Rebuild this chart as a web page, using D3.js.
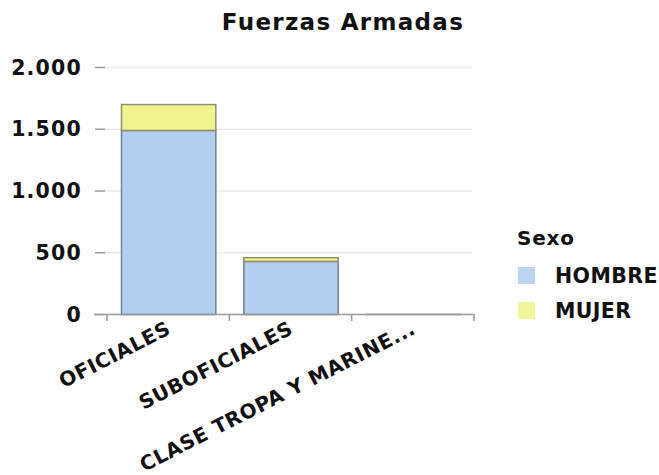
<!DOCTYPE html>
<html>
<head>
<meta charset="utf-8">
<script src="https://cdn.jsdelivr.net/npm/d3@7"></script>
<style>
  html, body { margin: 0; padding: 0; background: #fff; }
  svg text { font-family: "DejaVu Sans", sans-serif; font-weight: bold; fill: #111; }
</style>
</head>
<body>
<svg id="chart" width="659" height="475"></svg>
<script>
// Personal de las Fuerzas Armadas por categoría y sexo
const categories = ["OFICIALES", "SUBOFICIALES", "CLASE TROPA Y MARINE..."];
const series = ["HOMBRE", "MUJER"];
const hombre = [1490, 430, 1];
const mujer = [210, 30, 0];
const yTicks = [0, 500, 1000, 1500, 2000];
const colors = { HOMBRE: "#b3cfef", MUJER: "#f2f28e" };
const strokes = { HOMBRE: "#6f8096", MUJER: "#8f8f6a" };

const svg = d3.select("#chart");
const margin = { left: 107, right: 474, top: 67, bottom: 314 };

const x = d3.scaleBand().domain(categories).range([margin.left, margin.right]).padding(0);
const y = d3.scaleLinear().domain([0, 2000]).range([margin.bottom, margin.top]);

const fmt = v => d3.format(",")(v).replace(/,/g, ".");

// grid
svg.append("g").selectAll("line").data(yTicks.filter(d => d > 0)).join("line")
  .attr("x1", 105).attr("x2", 472)
  .attr("y1", d => y(d) + 0.5).attr("y2", d => y(d) + 0.5)
  .attr("stroke", "#e8e8e8").attr("stroke-width", 1.5);

// y axis tick marks and labels
const yAxis = svg.append("g");
yAxis.selectAll("line").data(yTicks).join("line")
  .attr("x1", 95).attr("x2", 105)
  .attr("y1", d => y(d) + 0.5).attr("y2", d => y(d) + 0.5)
  .attr("stroke", "#999").attr("stroke-width", 1.5);
yAxis.selectAll("text").data(yTicks).join("text")
  .attr("x", 82).attr("y", d => y(d) + 7.5)
  .attr("text-anchor", "end").attr("font-size", 20.5)
  .attr("letter-spacing", 1.2)
  .text(fmt);

// stacked bars
const table = categories.map((c, i) => ({ cat: c, HOMBRE: hombre[i], MUJER: mujer[i] }));
const stacked = d3.stack().keys(series)(table);
const inset = 14;
svg.append("g").selectAll("g").data(stacked).join("g")
  .attr("fill", d => colors[d.key]).attr("stroke", d => strokes[d.key])
  .selectAll("rect").data(d => d.filter(p => p[1] - p[0] > 0)).join("rect")
  .attr("x", d => x(d.data.cat) + inset + 0.5)
  .attr("width", x.bandwidth() - 2 * inset)
  .attr("y", d => y(d[1]) + 0.5)
  .attr("height", d => Math.max(0, y(d[0]) - y(d[1])))
  .attr("stroke-width", 1.5);

// x axis
const xAxis = svg.append("g");
xAxis.append("line")
  .attr("x1", 94).attr("x2", margin.right)
  .attr("y1", y(0) + 0.5).attr("y2", y(0) + 0.5)
  .attr("stroke", "#999").attr("stroke-width", 1.5);
const bounds = categories.map(c => x(c)).concat([x(categories[categories.length - 1]) + x.bandwidth()]);
xAxis.selectAll("line.tick").data(bounds).join("line").attr("class", "tick")
  .attr("x1", d => d).attr("x2", d => d)
  .attr("y1", y(0)).attr("y2", y(0) + 7)
  .attr("stroke", "#999").attr("stroke-width", 1.5);
xAxis.selectAll("text").data(categories).join("text")
  .attr("transform", d => `translate(${x(d) + x.bandwidth() / 2 + 4},${y(0) + 19}) rotate(-27)`)
  .attr("text-anchor", "end").attr("font-size", 20)
  .attr("letter-spacing", 0.6)
  .text(d => d);

// title
svg.append("text").attr("x", 343).attr("y", 30)
  .attr("text-anchor", "middle").attr("font-size", 23)
  .attr("letter-spacing", 1.3)
  .text("Fuerzas Armadas");

// legend
const legend = svg.append("g");
legend.append("text").attr("x", 517).attr("y", 245).attr("font-size", 20)
  .attr("letter-spacing", 0.8).text("Sexo");
const items = legend.selectAll("g").data(series).join("g")
  .attr("transform", (d, i) => `translate(518,${267 + i * 35})`);
items.append("rect").attr("width", 17).attr("height", 17)
  .attr("fill", d => colors[d]).attr("opacity", 0.9);
items.append("text").attr("x", 37).attr("y", 16).attr("font-size", 20.5)
  .attr("letter-spacing", 0.4).text(d => d);
</script>
</body>
</html>
